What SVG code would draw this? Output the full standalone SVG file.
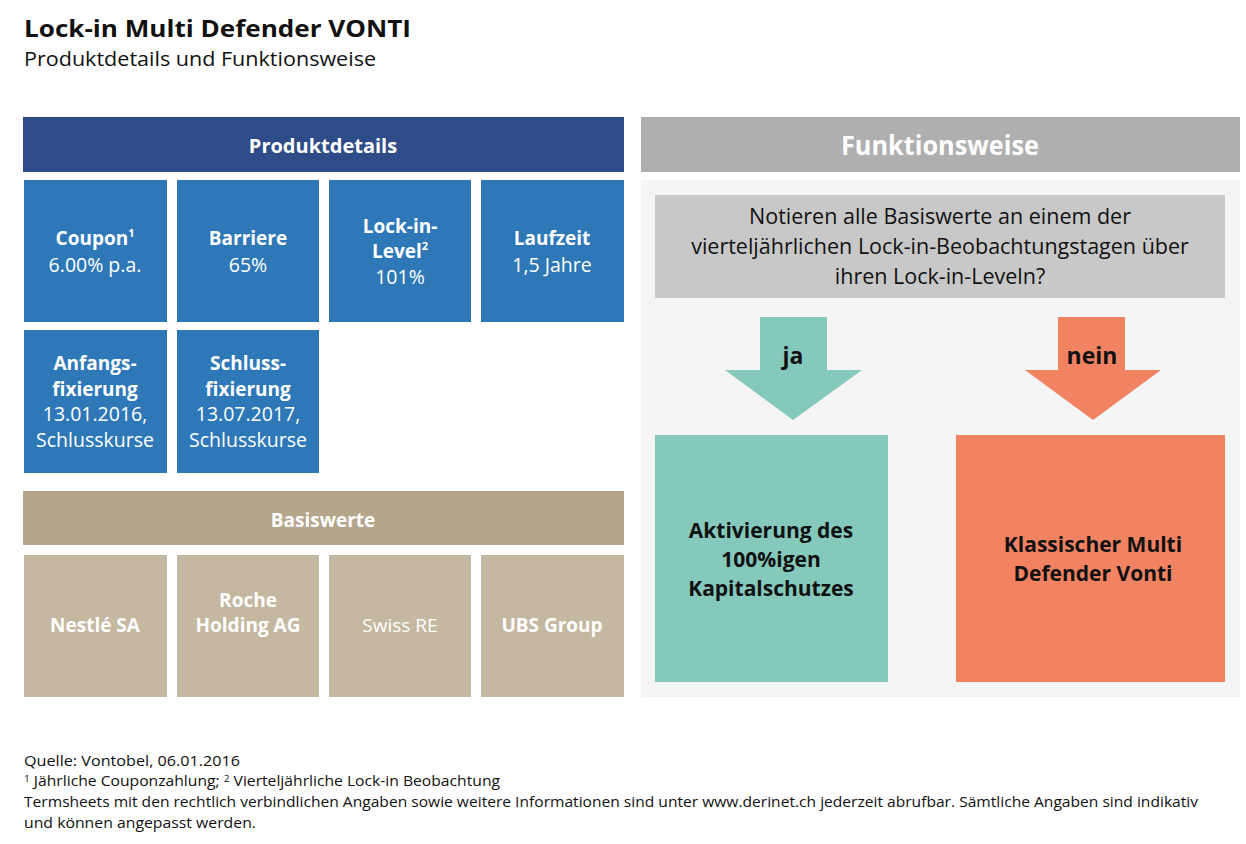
<svg xmlns="http://www.w3.org/2000/svg" width="1246" height="844" viewBox="0 0 1246 844">
<style>
text{font-family:"Open Sans","Liberation Sans",sans-serif;}
.w{fill:#ffffff;text-anchor:middle;}
.b{font-weight:bold;}
.box{font-size:19px;}
.reg{font-size:19.5px;}
.hd{font-weight:bold;fill:#ffffff;text-anchor:middle;}
.blue{fill:#2E78B8;}
.tan{fill:#C4B8A0;}
.dk{fill:#111111;text-anchor:middle;}
.foot{font-size:14px;fill:#111111;}
.sup{font-size:11px;}
.fsup{font-size:9px;}
</style>
<rect width="1246" height="844" fill="#ffffff"/>
<g id="title">
<text x="24" y="37" font-size="24" font-weight="bold" fill="#111" textLength="387" lengthAdjust="spacingAndGlyphs">Lock-in Multi Defender VONTI</text>
<text x="24" y="66" font-size="20" fill="#111" textLength="352" lengthAdjust="spacingAndGlyphs">Produktdetails und Funktionsweise</text>
</g>
<g id="produktdetails-header">
<rect x="23" y="117" width="601" height="55" fill="#2E4C87"/>
<text x="323" y="153" class="hd" font-size="20">Produktdetails</text>
</g>
<g id="coupon">
<rect x="24" y="180" width="143" height="142" class="blue"/>
<text x="95" y="245" class="w b box">Coupon<tspan class="sup" dy="-8">1</tspan></text>
<text x="95" y="272" class="w reg">6.00% p.a.</text>
</g>
<g id="barriere">
<rect x="177" y="180" width="142" height="142" class="blue"/>
<text x="248" y="245" class="w b box">Barriere</text>
<text x="248" y="272" class="w reg">65%</text>
</g>
<g id="lockin-level">
<rect x="329" y="180" width="142" height="142" class="blue"/>
<text x="400" y="233" class="w b box">Lock-in-</text>
<text x="400" y="258" class="w b box">Level<tspan class="sup" dy="-8">2</tspan></text>
<text x="400" y="284" class="w reg">101%</text>
</g>
<g id="laufzeit">
<rect x="481" y="180" width="143" height="142" class="blue"/>
<text x="552" y="245" class="w b box">Laufzeit</text>
<text x="552" y="272" class="w reg">1,5 Jahre</text>
</g>
<g id="anfangsfixierung">
<rect x="24" y="330" width="143" height="143" class="blue"/>
<text x="95" y="370" class="w b box">Anfangs-</text>
<text x="95" y="396" class="w b box">fixierung</text>
<text x="95" y="421" class="w reg">13.01.2016,</text>
<text x="95" y="447" class="w reg">Schlusskurse</text>
</g>
<g id="schlussfixierung">
<rect x="177" y="330" width="142" height="143" class="blue"/>
<text x="248" y="370" class="w b box">Schluss-</text>
<text x="248" y="396" class="w b box">fixierung</text>
<text x="248" y="421" class="w reg">13.07.2017,</text>
<text x="248" y="447" class="w reg">Schlusskurse</text>
</g>
<g id="basiswerte-header">
<rect x="23" y="491" width="601" height="54" fill="#B5A68B"/>
<text x="323" y="527" class="hd" font-size="19">Basiswerte</text>
</g>
<g id="nestle">
<rect x="24" y="555" width="143" height="142" class="tan"/>
<text x="95" y="632" class="w b box">Nestlé SA</text>
</g>
<g id="roche">
<rect x="177" y="555" width="142" height="142" class="tan"/>
<text x="248" y="607" class="w b box">Roche</text>
<text x="248" y="632" class="w b box">Holding AG</text>
</g>
<g id="swissre">
<rect x="329" y="555" width="142" height="142" class="tan"/>
<text x="400" y="632" class="w box">Swiss RE</text>
</g>
<g id="ubs">
<rect x="481" y="555" width="143" height="142" class="tan"/>
<text x="552" y="632" class="w b box">UBS Group</text>
</g>
<g id="funktionsweise-header">
<rect x="641" y="117" width="599" height="55" fill="#AFAFB0"/>
<text x="940" y="155" class="hd" font-size="26" textLength="198" lengthAdjust="spacingAndGlyphs">Funktionsweise</text>
</g>
<g id="funktionsweise-panel">
<rect x="641" y="180" width="599" height="517" fill="#F5F5F5"/>
</g>
<g id="frage">
<rect x="655" y="195" width="570" height="103" fill="#C8C8C8"/>
<text x="940" y="224" class="dk" font-size="21.5">Notieren alle Basiswerte an einem der</text>
<text x="940" y="254" class="dk" font-size="21.5">vierteljährlichen Lock-in-Beobachtungstagen über</text>
<text x="940" y="284" class="dk" font-size="21.5">ihren Lock-in-Leveln?</text>
</g>
<g id="connectors">
<g id="arrow-ja">
<polygon points="760,317 827,317 827,370 862,370 793,420 725,370 760,370" fill="#84C9BB"/>
<text x="793" y="364" class="dk b" font-size="23">ja</text>
</g>
<g id="arrow-nein">
<polygon points="1058,317 1125,317 1125,370 1161,370 1093,420 1025,370 1058,370" fill="#F18262"/>
<text x="1092" y="364" class="dk b" font-size="23">nein</text>
</g>
</g>
<g id="aktivierung">
<rect x="655" y="435" width="233" height="247" fill="#84C9BB"/>
<text x="771" y="538" class="dk b" font-size="21">Aktivierung  des</text>
<text x="771" y="567" class="dk b" font-size="21">100%igen</text>
<text x="771" y="596" class="dk b" font-size="21">Kapitalschutzes</text>
</g>
<g id="klassisch">
<rect x="956" y="435" width="269" height="247" fill="#F18262"/>
<text x="1093" y="552" class="dk b" font-size="21">Klassischer Multi</text>
<text x="1093" y="581" class="dk b" font-size="21">Defender Vonti</text>
</g>
<g id="footer">
<text x="24" y="766" class="foot" textLength="216" lengthAdjust="spacingAndGlyphs">Quelle: Vontobel,  06.01.2016</text>
<text x="24" y="786" class="foot" textLength="476" lengthAdjust="spacingAndGlyphs"><tspan class="fsup" dy="-4">1</tspan><tspan dy="4"> Jährliche Couponzahlung;  </tspan><tspan class="fsup" dy="-4">2</tspan><tspan dy="4"> Vierteljährliche Lock-in Beobachtung</tspan></text>
<text x="24" y="807" class="foot" textLength="1174" lengthAdjust="spacingAndGlyphs">Termsheets mit den rechtlich verbindlichen Angaben  sowie weitere Informationen sind unter  www.derinet.ch jederzeit abrufbar. Sämtliche Angaben sind indikativ</text>
<text x="24" y="828" class="foot" textLength="232" lengthAdjust="spacingAndGlyphs">und  können  angepasst werden.</text>
</g>
</svg>
